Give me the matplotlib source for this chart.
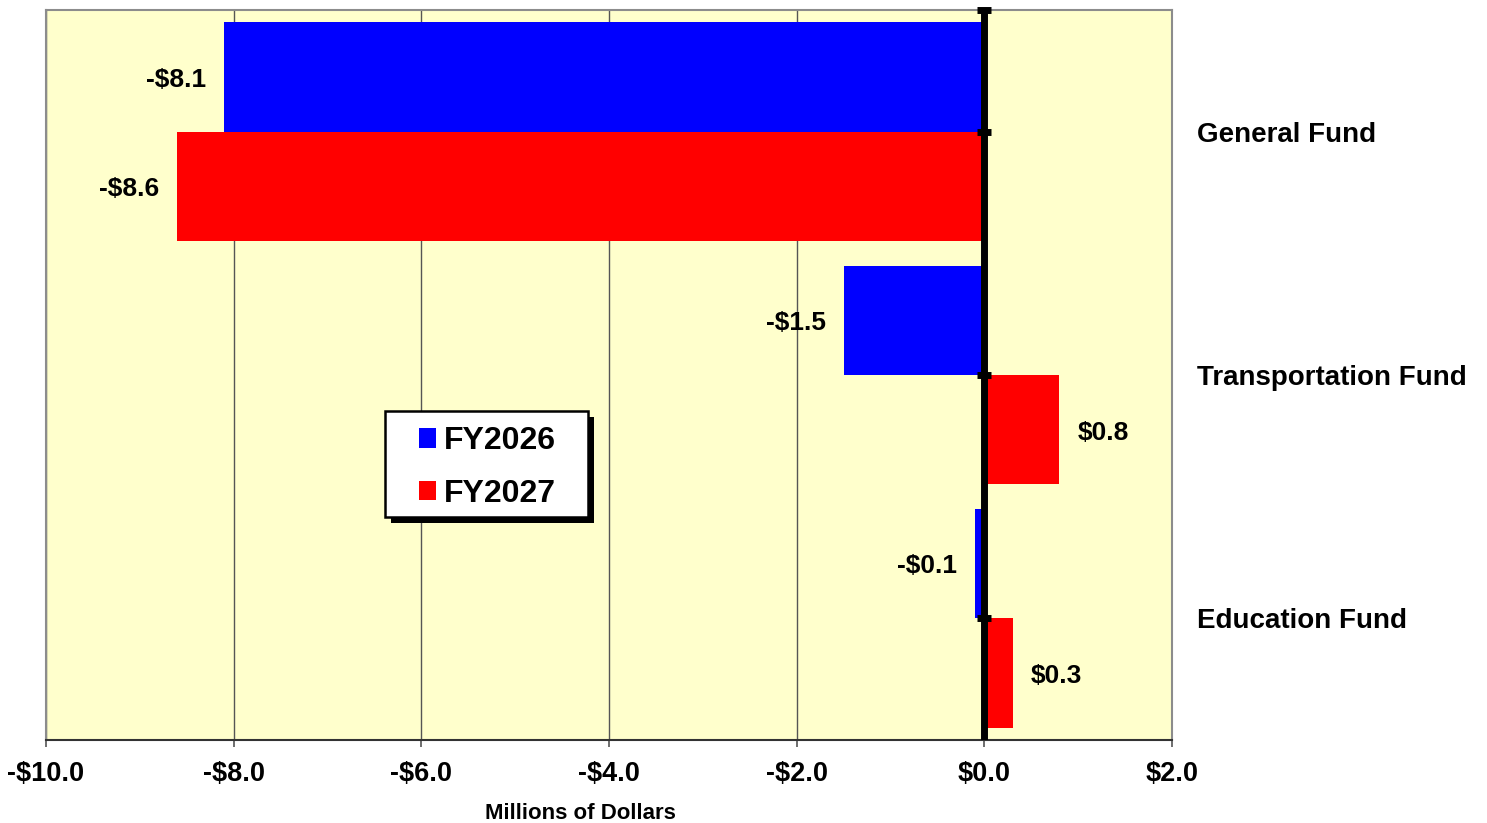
import matplotlib.pyplot as plt
import matplotlib.patheffects as pe
from matplotlib.patches import Rectangle
import numpy as np

plt.rcParams['font.family'] = ['Liberation Sans', 'DejaVu Sans']
plt.rcParams['font.weight'] = 'bold'

# Fundos e valores (milhões de dólares)
funds = ['General Fund', 'Transportation Fund', 'Education Fund']
fy2026 = [-8.1, -1.5, -0.1]
fy2027 = [-8.6, 0.8, 0.3]
x_ticks = [-10, -8, -6, -4, -2, 0, 2]

fig = plt.figure(figsize=(14.87, 8.23), dpi=100)
ax = fig.add_axes([0.0309, 0.1009, 0.7573, 0.8869])
ax.set_facecolor('#FFFFCC')

y = np.arange(len(funds))
h = 0.45
b1 = ax.barh(y - h / 2, fy2026, height=h, color='#0000FF', label='FY2026', zorder=2)
b2 = ax.barh(y + h / 2, fy2027, height=h, color='#FF0000', label='FY2027', zorder=2)

# rótulos de valor ao lado de cada barra
for bars, vals in [(b1, fy2026), (b2, fy2027)]:
    for bar, v in zip(bars, vals):
        yc = bar.get_y() + bar.get_height() / 2
        txt = ('-$%.1f' % abs(v)) if v < 0 else ('$%.1f' % v)
        off = -13 if v < 0 else 13
        ax.annotate(txt, (v, yc), xytext=(off, -2), textcoords='offset points',
                    ha='right' if v < 0 else 'left', va='center',
                    fontsize=19, fontweight='bold')

ax.set_xlim(-10, 2)
ax.set_ylim(2.5, -0.5)

# linha do zero com marcas
ax.axvline(0, color='black', lw=5, zorder=3)
ax.plot([0] * 4, [-0.5, 0, 1, 2], ls='none', marker='_', ms=10, mew=5,
        color='black', zorder=4, clip_on=False)

ax.set_xticks(x_ticks)
ax.set_xticklabels([('-$%.1f' % abs(t)) if t < 0 else ('$%.1f' % t) for t in x_ticks],
                   fontsize=19.5, fontweight='bold')
ax.tick_params(axis='x', direction='out', length=5, width=1.2, color='#555555', pad=10.5)
ax.xaxis.grid(True, color='#555555', lw=1)
ax.set_axisbelow(True)

ax.set_yticks(y)
ax.set_yticklabels(funds, fontsize=20, fontweight='bold')
ax.tick_params(axis='y', left=False, right=False, labelleft=False, labelright=True,
               length=0, pad=18)

ax.set_xlabel('Millions of Dollars', fontsize=16, fontweight='bold')
ax.xaxis.set_label_coords(0.475, -0.087)

for s in ['top', 'right', 'left']:
    ax.spines[s].set_color('#8C8C8C')
    ax.spines[s].set_linewidth(1.5)
ax.spines['bottom'].set_color('#333333')
ax.spines['bottom'].set_linewidth(1.5)

# caixa da legenda com sombra
box = Rectangle((0.301, 0.3055), 0.1803, 0.1452, transform=ax.transAxes,
                facecolor='white', edgecolor='black', lw=1.8, zorder=5)
box.set_path_effects([
    pe.SimplePatchShadow(offset=(4.5, -4.5), shadow_rgbFace='black', alpha=1),
    pe.Normal()])
ax.add_patch(box)

leg = ax.legend(loc='center', bbox_to_anchor=(0.3921, 0.3733), fontsize=23,
                frameon=False, handlelength=0.55, handleheight=0.55,
                handletextpad=0.25, labelspacing=0.7, borderpad=0, borderaxespad=0)
leg.set_zorder(6)
for t in leg.get_texts():
    t.set_fontweight('bold')

plt.savefig('out.png', dpi=100)
